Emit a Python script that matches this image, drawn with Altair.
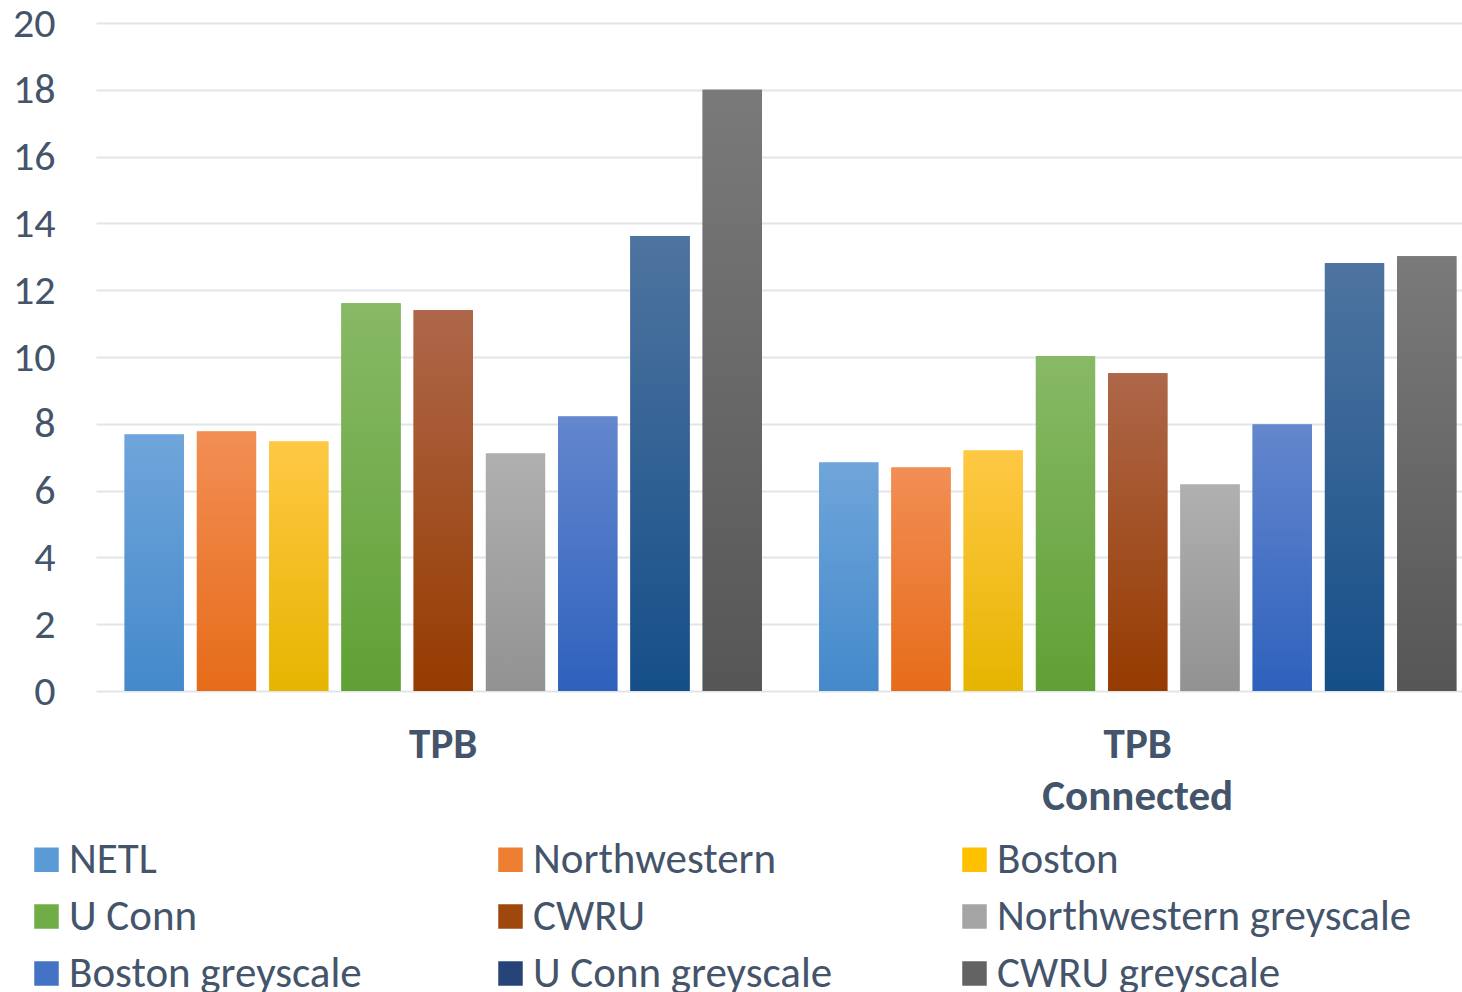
import altair as alt
import pandas as pd

# Groups on the x axis and the series drawn inside each group
categories = ["TPB", "TPB Connected"]
series = [
    "NETL", "Northwestern", "Boston",
    "U Conn", "CWRU", "Northwestern greyscale",
    "Boston greyscale", "U Conn greyscale", "CWRU greyscale",
]
tpb_values = [7.68, 7.77, 7.47, 11.61, 11.40, 7.11, 8.22, 13.62, 18.0]
tpb_connected_values = [6.84, 6.69, 7.20, 10.02, 9.51, 6.18, 7.98, 12.81, 13.02]

# Per-series fill: light at the top of a bar, darker at its base
top_colors = ["#6FA5DA", "#F28E55", "#FFC845", "#88B966", "#AE674A",
              "#B0B0B0", "#6487CD", "#4E74A0", "#7A7A7A"]
bottom_colors = ["#4489CB", "#E66C19", "#E6B500", "#60A035", "#963B00",
                 "#929292", "#2E61BD", "#154F88", "#565656"]
mid_colors = ["#5B9BD5", "#ED7D31", "#FFC000", "#70AD47", "#9E480E",
              "#A5A5A5", "#4472C4", "#264478", "#636363"]

rows = []
for cat, vals in zip(categories, [tpb_values, tpb_connected_values]):
    for s, v in zip(series, vals):
        rows.append({"category": cat, "series": s, "value": v})
df = pd.DataFrame(rows)

FONT = "Carlito, Calibri, 'Open Sans', sans-serif"
TEXT = "#44546A"
PLOT_W, PLOT_H = 1366, 668

x_enc = alt.X(
    "category:N",
    scale=alt.Scale(domain=categories, range=[0, 1389], paddingInner=0, paddingOuter=0),
    axis=alt.Axis(
        title=None, domain=False, ticks=False, grid=False, labelAngle=0,
        labelFont=FONT, labelFontSize=43, labelFontWeight="bold", labelColor=TEXT,
        labelPadding=32, labelLineHeight=52, labelLimit=600,
        labelExpr="datum.value == 'TPB Connected' ? ['TPB', 'Connected'] : datum.label",
    ),
)
xo_enc = alt.XOffset(
    "series:N",
    scale=alt.Scale(domain=series, paddingInner=0.18, paddingOuter=0.396),
)
y_enc = alt.Y(
    "value:Q",
    scale=alt.Scale(domain=[0, 20], nice=False),
    axis=alt.Axis(
        title=None, domain=False, ticks=False, values=list(range(0, 21, 2)),
        labelFont=FONT, labelFontSize=42, labelColor=TEXT, labelPadding=41,
        gridColor="#E1E5EA", gridWidth=2,
    ),
)

base = alt.Chart(df)

solid = base.mark_bar().encode(
    x=x_enc, xOffset=xo_enc, y=y_enc,
    color=alt.Color(
        "series:N",
        scale=alt.Scale(domain=series, range=mid_colors),
        legend=alt.Legend(
            title=None, orient="none", legendX=-71, legendY=815,
            direction="horizontal", columns=3, gridAlign="all",
            columnPadding=5, rowPadding=13,
            symbolType="square", symbolSize=600, symbolStrokeWidth=0,
            labelFont=FONT, labelFontSize=43, labelColor=TEXT,
            labelOffset=1, labelLimit=800,
        ),
    ),
)

layers = [solid]
for s, top, bottom in zip(series, top_colors, bottom_colors):
    grad = alt.LinearGradient(
        gradient="linear", x1=0, y1=0, x2=0, y2=1,
        stops=[alt.GradientStop(offset=0, color=top),
               alt.GradientStop(offset=1, color=bottom)],
    )
    layers.append(
        base.transform_filter(alt.datum.series == s)
        .mark_bar(color=grad)
        .encode(x=x_enc, xOffset=xo_enc, y=y_enc)
    )

chart = alt.layer(*layers).properties(
    width=PLOT_W, height=PLOT_H,
    background="white",
    autosize=alt.AutoSizeParams(type="none"),
    padding={"left": 96, "top": 23, "right": 0, "bottom": 301},
).configure_view(stroke=None)

chart.save("out.html", embed_options={"renderer": "svg", "actions": False})
